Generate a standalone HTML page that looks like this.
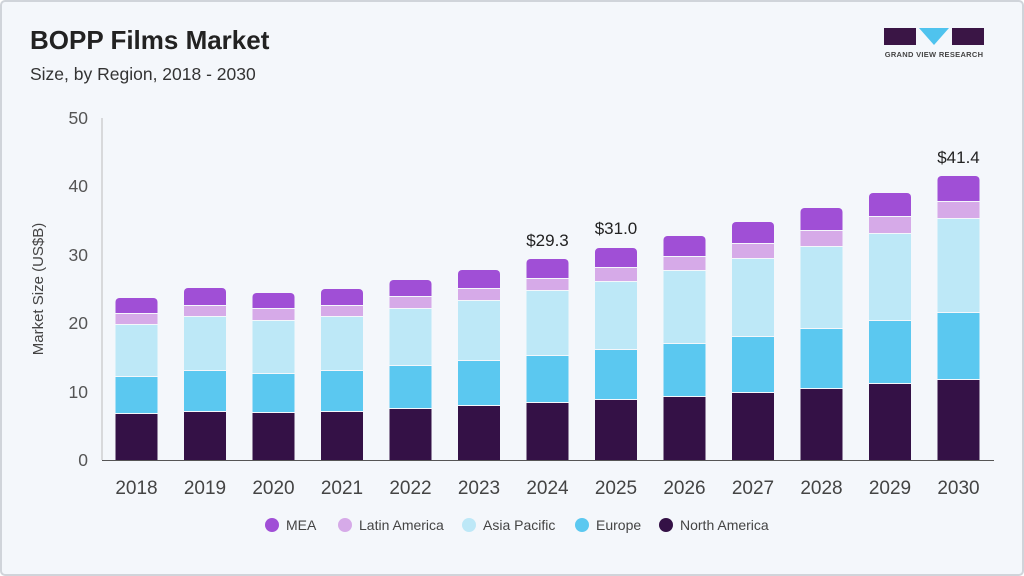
<!DOCTYPE html>
<html><head><meta charset="utf-8"><style>
html,body{margin:0;padding:0;background:#fff}
svg{display:block;font-family:"Liberation Sans",Arial,sans-serif}
</style></head><body>
<svg width="1024" height="576" viewBox="0 0 1024 576" xmlns="http://www.w3.org/2000/svg">
<rect x="1" y="1" width="1022" height="574" rx="4" fill="#f4f7fb" stroke="#d0d4da" stroke-width="2"/>
<text x="30" y="49" font-size="26" font-weight="bold" fill="#222">BOPP Films Market</text>
<text x="30" y="80" font-size="17.5" fill="#333">Size, by Region, 2018 - 2030</text>
<rect x="884" y="28" width="32" height="17" fill="#3a1545"/>
<polygon points="919,28 949,28 934,45" fill="#4fc3ee"/>
<rect x="952" y="28" width="32" height="17" fill="#3a1545"/>
<text x="934" y="57" font-size="7.5" font-weight="bold" fill="#444" text-anchor="middle" letter-spacing="0.3">GRAND VIEW RESEARCH</text>
<line x1="102" y1="118" x2="102" y2="460" stroke="#bbb" stroke-width="1"/>
<line x1="102" y1="460.5" x2="994" y2="460.5" stroke="#555" stroke-width="1"/>
<g font-size="17.5" fill="#555" text-anchor="end">
<text x="88" y="466">0</text><text x="88" y="398">10</text><text x="88" y="329">20</text><text x="88" y="261">30</text><text x="88" y="192">40</text><text x="88" y="124">50</text>
</g>
<text transform="translate(43,289) rotate(-90)" font-size="15" fill="#444" text-anchor="middle">Market Size (US$B)</text>
<g font-size="19" fill="#444" text-anchor="middle">
<text x="136.5" y="494">2018</text><text x="205" y="494">2019</text><text x="273.5" y="494">2020</text><text x="342" y="494">2021</text><text x="410.5" y="494">2022</text><text x="479" y="494">2023</text><text x="547.5" y="494">2024</text><text x="616" y="494">2025</text><text x="684.5" y="494">2026</text><text x="753" y="494">2027</text><text x="821.5" y="494">2028</text><text x="890" y="494">2029</text><text x="958.5" y="494">2030</text>
</g>
<g font-size="17" fill="#222" text-anchor="middle">
<text x="547.5" y="246">$29.3</text><text x="616" y="234">$31.0</text><text x="958.5" y="163">$41.4</text>
</g>
<g>
<g transform="translate(115.5,0)"><rect y="414" width="42" height="46" fill="#341146"/><rect y="377" width="42" height="36" fill="#5bc8f0"/><rect y="325" width="42" height="51" fill="#bde8f7"/><rect y="314" width="42" height="10" fill="#d6aae8"/><rect y="298" width="42" height="15" rx="4" fill="#a04fd6"/><rect y="302" width="42" height="11" fill="#a04fd6"/></g>
<g transform="translate(184,0)"><rect y="412" width="42" height="48" fill="#341146"/><rect y="371" width="42" height="40" fill="#5bc8f0"/><rect y="317" width="42" height="53" fill="#bde8f7"/><rect y="306" width="42" height="10" fill="#d6aae8"/><rect y="288" width="42" height="17" rx="4" fill="#a04fd6"/><rect y="292" width="42" height="13" fill="#a04fd6"/></g>
<g transform="translate(252.5,0)"><rect y="413" width="42" height="47" fill="#341146"/><rect y="374" width="42" height="38" fill="#5bc8f0"/><rect y="321" width="42" height="52" fill="#bde8f7"/><rect y="309" width="42" height="11" fill="#d6aae8"/><rect y="293" width="42" height="15" rx="4" fill="#a04fd6"/><rect y="297" width="42" height="11" fill="#a04fd6"/></g>
<g transform="translate(321,0)"><rect y="412" width="42" height="48" fill="#341146"/><rect y="371" width="42" height="40" fill="#5bc8f0"/><rect y="317" width="42" height="53" fill="#bde8f7"/><rect y="306" width="42" height="10" fill="#d6aae8"/><rect y="289" width="42" height="16" rx="4" fill="#a04fd6"/><rect y="293" width="42" height="12" fill="#a04fd6"/></g>
<g transform="translate(389.5,0)"><rect y="409" width="42" height="51" fill="#341146"/><rect y="366" width="42" height="42" fill="#5bc8f0"/><rect y="309" width="42" height="56" fill="#bde8f7"/><rect y="297" width="42" height="11" fill="#d6aae8"/><rect y="280" width="42" height="16" rx="4" fill="#a04fd6"/><rect y="284" width="42" height="12" fill="#a04fd6"/></g>
<g transform="translate(458,0)"><rect y="406" width="42" height="54" fill="#341146"/><rect y="361" width="42" height="44" fill="#5bc8f0"/><rect y="301" width="42" height="59" fill="#bde8f7"/><rect y="289" width="42" height="11" fill="#d6aae8"/><rect y="270" width="42" height="18" rx="4" fill="#a04fd6"/><rect y="274" width="42" height="14" fill="#a04fd6"/></g>
<g transform="translate(526.5,0)"><rect y="403" width="42" height="57" fill="#341146"/><rect y="356" width="42" height="46" fill="#5bc8f0"/><rect y="291" width="42" height="64" fill="#bde8f7"/><rect y="279" width="42" height="11" fill="#d6aae8"/><rect y="259" width="42" height="19" rx="4" fill="#a04fd6"/><rect y="263" width="42" height="15" fill="#a04fd6"/></g>
<g transform="translate(595,0)"><rect y="400" width="42" height="60" fill="#341146"/><rect y="350" width="42" height="49" fill="#5bc8f0"/><rect y="282" width="42" height="67" fill="#bde8f7"/><rect y="268" width="42" height="13" fill="#d6aae8"/><rect y="248" width="42" height="19" rx="4" fill="#a04fd6"/><rect y="252" width="42" height="15" fill="#a04fd6"/></g>
<g transform="translate(663.5,0)"><rect y="397" width="42" height="63" fill="#341146"/><rect y="344" width="42" height="52" fill="#5bc8f0"/><rect y="271" width="42" height="72" fill="#bde8f7"/><rect y="257" width="42" height="13" fill="#d6aae8"/><rect y="236" width="42" height="20" rx="4" fill="#a04fd6"/><rect y="240" width="42" height="16" fill="#a04fd6"/></g>
<g transform="translate(732,0)"><rect y="393" width="42" height="67" fill="#341146"/><rect y="337" width="42" height="55" fill="#5bc8f0"/><rect y="259" width="42" height="77" fill="#bde8f7"/><rect y="244" width="42" height="14" fill="#d6aae8"/><rect y="222" width="42" height="21" rx="4" fill="#a04fd6"/><rect y="226" width="42" height="17" fill="#a04fd6"/></g>
<g transform="translate(800.5,0)"><rect y="389" width="42" height="71" fill="#341146"/><rect y="329" width="42" height="59" fill="#5bc8f0"/><rect y="247" width="42" height="81" fill="#bde8f7"/><rect y="231" width="42" height="15" fill="#d6aae8"/><rect y="208" width="42" height="22" rx="4" fill="#a04fd6"/><rect y="212" width="42" height="18" fill="#a04fd6"/></g>
<g transform="translate(869,0)"><rect y="384" width="42" height="76" fill="#341146"/><rect y="321" width="42" height="62" fill="#5bc8f0"/><rect y="234" width="42" height="86" fill="#bde8f7"/><rect y="217" width="42" height="16" fill="#d6aae8"/><rect y="193" width="42" height="23" rx="4" fill="#a04fd6"/><rect y="197" width="42" height="19" fill="#a04fd6"/></g>
<g transform="translate(937.5,0)"><rect y="380" width="42" height="80" fill="#341146"/><rect y="313" width="42" height="66" fill="#5bc8f0"/><rect y="219" width="42" height="93" fill="#bde8f7"/><rect y="202" width="42" height="16" fill="#d6aae8"/><rect y="176" width="42" height="25" rx="4" fill="#a04fd6"/><rect y="180" width="42" height="21" fill="#a04fd6"/></g>
</g>
<g font-size="14" fill="#444">
<circle cx="272" cy="525" r="7" fill="#a04fd6"/><text x="286" y="530">MEA</text>
<circle cx="345" cy="525" r="7" fill="#d6aae8"/><text x="359" y="530">Latin America</text>
<circle cx="469" cy="525" r="7" fill="#bde8f7"/><text x="483" y="530">Asia Pacific</text>
<circle cx="582" cy="525" r="7" fill="#5bc8f0"/><text x="596" y="530">Europe</text>
<circle cx="666" cy="525" r="7" fill="#341146"/><text x="680" y="530">North America</text>
</g>
</svg>
</body></html>
